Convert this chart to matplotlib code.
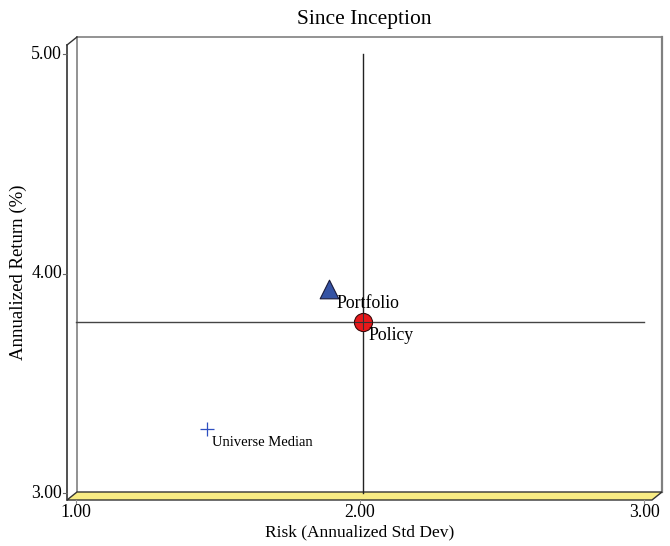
import numpy as np
import matplotlib.pyplot as plt
from matplotlib.patches import Polygon

plt.rcParams['font.family'] = ['Liberation Serif', 'DejaVu Serif']

# data
names = ['Portfolio', 'Policy', 'Universe Median']
risk = [1.89, 2.01, 1.46]
ret = [3.93, 3.78, 3.29]
xticks = [1.0, 2.0, 3.0]
yticks = [3.0, 4.0, 5.0]

# pixel -> data helpers (x: 1.00 at 76px, 3.00 at 644px; y: 3.00 at 493px, 5.00 at 54px)
def px(p):
    return 1 + (p - 76) / 284.0

def py(p):
    return 3 + (493 - p) / 219.5

fig = plt.figure(figsize=(6.7, 5.46), dpi=100)
ax = fig.add_axes([0, 0, 1, 1])
ax.set_xlim(px(0), px(670))
ax.set_ylim(py(546), py(0))
ax.axis('off')

# box: back wall, side wall, floor
back = '#808080'
front = '#333333'
ax.plot([px(77), px(662)], [py(37), py(37)], color=back, lw=1.2)
ax.plot([px(77), px(77)], [py(37), py(492)], color=back, lw=1.2)
ax.plot([px(662), px(662)], [py(37), py(492)], color=back, lw=1.6)
ax.plot([px(67), px(67)], [py(45), py(500)], color=front, lw=1.2)
ax.plot([px(67), px(77)], [py(45), py(37)], color=front, lw=1.0)
floor = Polygon([(px(67), py(500)), (px(652), py(500)), (px(662), py(492)), (px(77), py(492))],
                closed=True, facecolor='#f8ec84', edgecolor=front, lw=1.0, zorder=2)
ax.add_patch(floor)

# tick marks and labels
for t in yticks:
    ax.plot([px(63), px(67)], [t, t], color='#666666', lw=0.8)
    ax.text(px(62), t, '%.2f' % t, ha='right', va='center', fontsize=12.8)
for t in xticks:
    ax.plot([t, t], [py(500), py(504)], color='#999999', lw=0.8)
    ax.text(t, py(504), '%.2f' % t, ha='center', va='top', fontsize=12.8)

# crosshair at policy
ax.plot([xticks[0], xticks[-1]], [ret[1], ret[1]], color='#444444', lw=1.0, zorder=3)
ax.plot([risk[1], risk[1]], [yticks[0], yticks[-1]], color='#222222', lw=1.0, zorder=3)

# points
ax.scatter(risk[0], ret[0], marker='^', s=180, color='#3553a4', edgecolors='#1a1a3a', lw=0.8, zorder=4)
ax.scatter(risk[1], ret[1], marker='o', s=170, color='#e8191b', edgecolors='#3a0a0a', lw=0.8, zorder=4)
ax.plot([risk[1] - 0.027, risk[1] + 0.027], [ret[1], ret[1]], color='#333333', lw=0.8, zorder=5)
ax.plot([risk[1], risk[1]], [ret[1] - 0.035, ret[1] + 0.035], color='#333333', lw=0.8, zorder=5)
ax.scatter(risk[2], ret[2], marker='+', s=100, color='#2e4fc0', lw=0.9, zorder=4)

# point labels
ax.text(px(336), py(303), names[0], ha='left', va='center', fontsize=12.8, zorder=6)
ax.text(px(368), py(336), names[1], ha='left', va='center', fontsize=12.8, zorder=6)
ax.text(px(212), py(443), names[2], ha='left', va='center', fontsize=10.5, zorder=6)

# titles
ax.text(px(364), py(19), 'Since Inception', ha='center', va='center', fontsize=15.5)
ax.text(px(360), py(532), 'Risk (Annualized Std Dev)', ha='center', va='center', fontsize=12.5)
ax.text(px(18), py(272), 'Annualized Return (%)', ha='center', va='center', fontsize=13.5, rotation=90)

fig.savefig('out.png', dpi=100)
